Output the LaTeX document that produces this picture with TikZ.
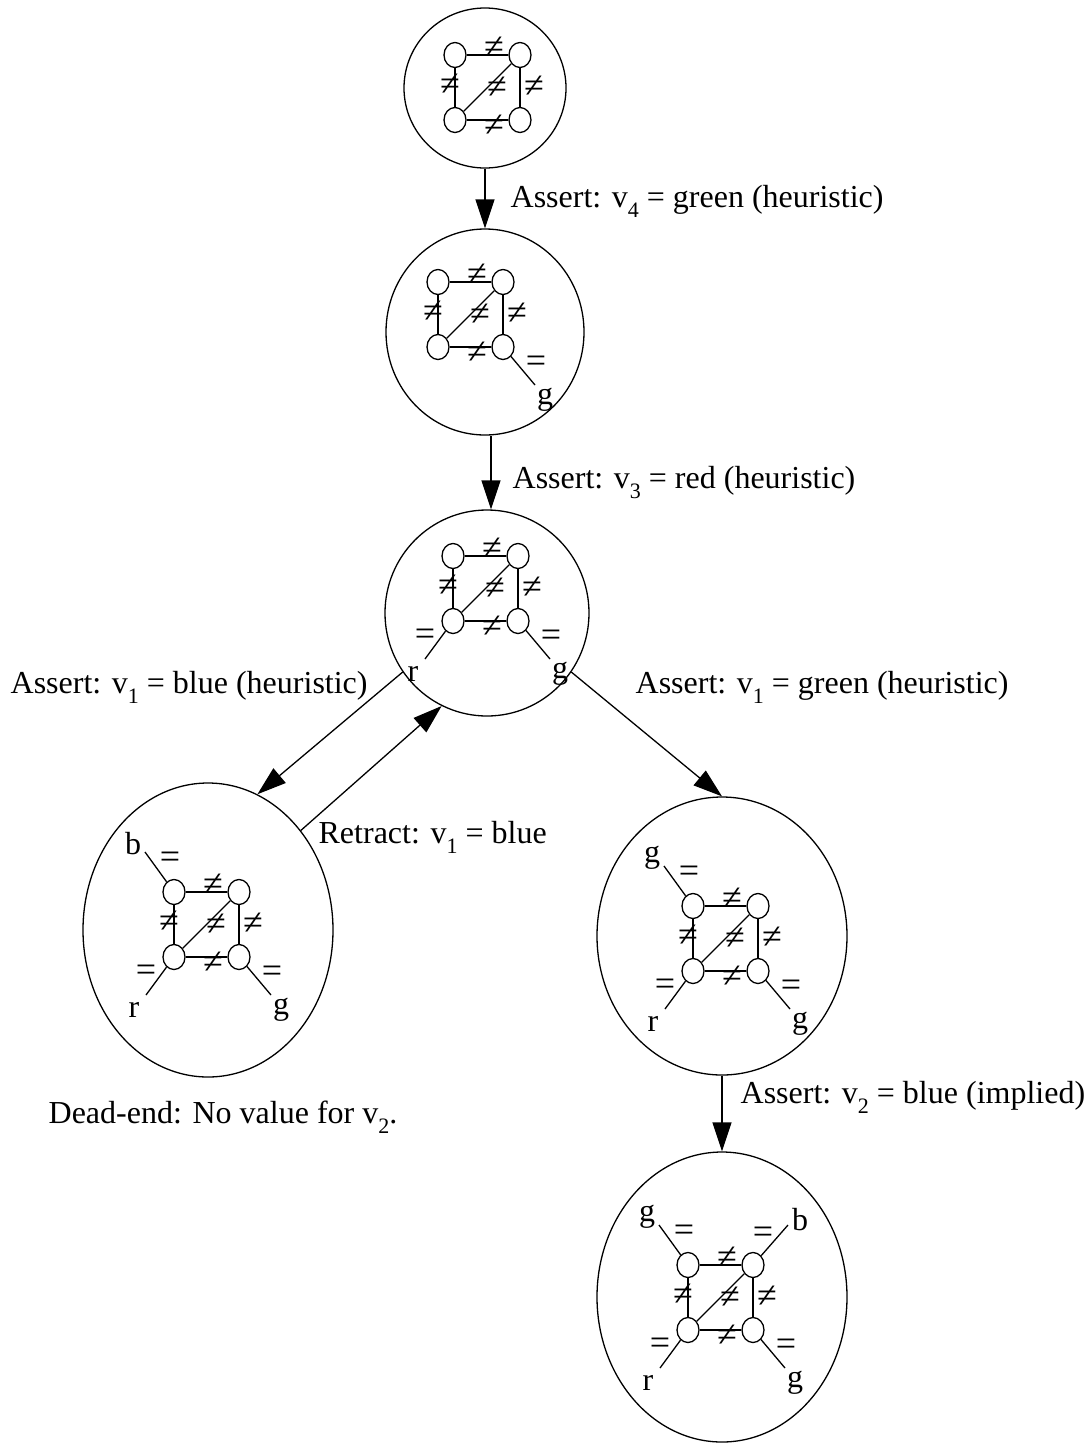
\documentclass[tikz,border=0pt]{standalone}
\usepackage{fontspec}
\setmainfont{Liberation Serif}
\usetikzlibrary{shapes.geometric,arrows.meta,calc}
\newcommand\lbl{\fontsize{32}{38}\selectfont}
\newcommand\nlbl{\fontsize{36}{40}\selectfont}
\newcommand\sub[1]{\raisebox{-10pt}{\fontsize{22}{22}\selectfont #1}}
\newcommand\eqleg[6]{%
  \coordinate (#6e) at ($(#1)+(#2)$);
  \draw (#1) -- (#6e);
  \node[ne] (#6q) at ($(#1)+(#3)$) {=};
  \node[lab] (#6l) at ($(#1)+(#4)$) {#5};
}
\newcommand\legbl[2]{\eqleg{#1-bl}{-28,38}{-28,16}{-40,53}{#2}{#1bl}}
\newcommand\legbr[2]{\eqleg{#1-br}{32,38}{33,17}{42,53}{#2}{#1br}}
\newcommand\legtl[2]{\eqleg{#1-tl}{-29,-40}{-4,-32}{-41,-48}{#2}{#1tl}}
\newcommand\legtr[2]{\eqleg{#1-tr}{35,-40}{10,-30}{47,-45}{#2}{#1tr}}
\tikzset{
  every path/.style={line width=1.3pt},
  sn/.style={draw, ellipse, minimum width=22pt, minimum height=25pt, inner sep=0pt},
  big/.style={draw, ellipse, inner sep=0pt},
  lab/.style={inner sep=0pt, font=\lbl},
  ne/.style={inner sep=0pt, font=\nlbl},
  txt/.style={inner sep=0pt, font=\lbl, anchor=base west},
  arr/.style={-{Triangle[length=29pt,width=19pt]}},
  cg/.pic={
    \node[sn] (-tl) at (0,0) {};
    \node[sn] (-tr) at (65,0) {};
    \node[sn] (-bl) at (0,65) {};
    \node[sn] (-br) at (65,65) {};
    \draw (-tl) -- (-tr);
    \draw (-tl) -- (-bl);
    \draw (-tr) -- (-br);
    \draw (-bl) -- (-br);
    \draw (-bl) -- (-tr);
    \node[ne] (-nt) at (39,-7) {≠};
    \node[ne] (-nl) at (-5,30) {≠};
    \node[ne] (-nr) at (79,32) {≠};
    \node[ne] (-nd) at (42,33) {≠};
    \node[ne] (-nb) at (39,71) {≠};
  }
}
\begin{document}
\begin{tikzpicture}[x=1pt,y=-1pt]
\useasboundingbox (0,0) rectangle (1090,1444);
% big ellipses
\node[big, minimum width=162pt, minimum height=160pt] (e1) at (485,88) {};
\node[big, minimum width=198pt, minimum height=206pt] (e2) at (485,332) {};
\node[big, minimum width=204pt, minimum height=206pt] (e3) at (487,613) {};
\node[big, minimum width=250pt, minimum height=294pt] (e4) at (208,930) {};
\node[big, minimum width=250pt, minimum height=278pt] (e5) at (722,936) {};
\node[big, minimum width=250pt, minimum height=290pt] (e6) at (722,1297) {};
% constraint graphs
\pic (g1) at (455,55) {cg};
\pic (g2) at (438,282) {cg};
\pic (g3) at (453,556) {cg};
\pic (g4) at (174,892) {cg};
\pic (g5) at (693,906) {cg};
\pic (g6) at (688,1265) {cg};
% legs
\legbr{g2}{g}
\legbl{g3}{r}
\legbr{g3}{g}
\legtl{g4}{b}
\legbl{g4}{r}
\legbr{g4}{g}
\legtl{g5}{g}
\legbl{g5}{r}
\legbr{g5}{g}
\legtl{g6}{g}
\legtr{g6}{b}
\legbl{g6}{r}
\legbr{g6}{g}
% arrows
\coordinate (x2) at (491,0);
\draw[arr] (e1.south) -- (e2.north -| e1.south);
\draw[arr] (e2.south -| x2) -- (e3.north -| x2);
\draw[arr] (e3.215) -- (e4.70);
\draw[arr] (e4.47) -- (e3.244);
\draw[arr] (e3.325) -- (e5.north);
\draw[arr] (e5.south) -- (e6.north);
% labels
\node[txt] (t1) at (510,207) {Assert: v\sub{4} = green (heuristic)};
\node[txt] (t2) at (512,488) {Assert: v\sub{3} = red (heuristic)};
\node[txt] (t3) at (10,693) {Assert: v\sub{1} = blue (heuristic)};
\node[txt] (t4) at (635,693) {Assert: v\sub{1} = green (heuristic)};
\node[txt] (t5) at (318,843) {Retract: v\sub{1} = blue};
\node[txt] (t6) at (740,1103) {Assert: v\sub{2} = blue (implied)};
\node[txt] (t7) at (48,1123) {Dead-end: No value for v\sub{2}.};
\end{tikzpicture}
\end{document}
